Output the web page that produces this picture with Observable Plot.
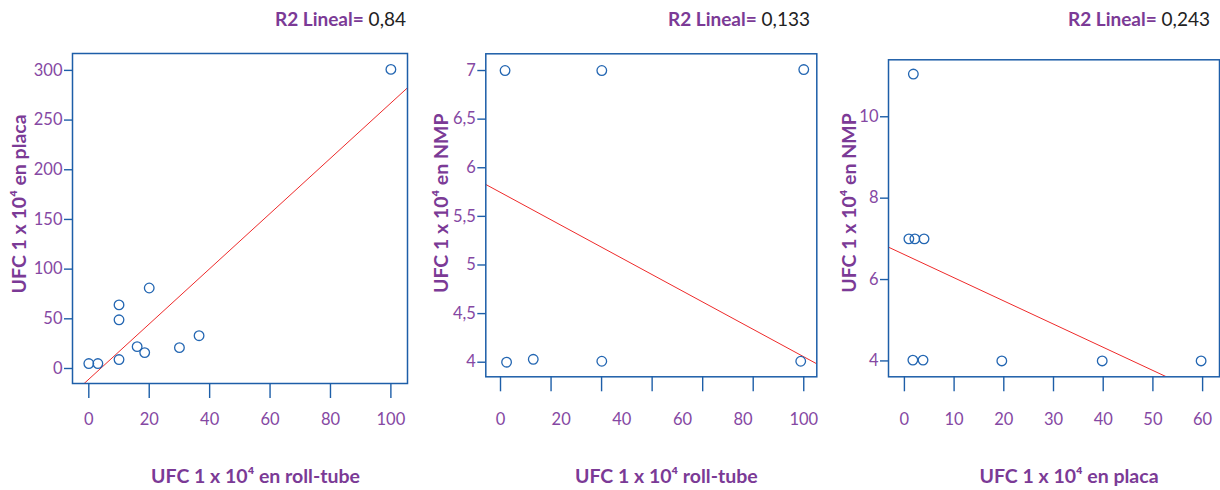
<!DOCTYPE html>
<html><head><meta charset="utf-8">
<script src="https://cdn.jsdelivr.net/npm/d3@7"></script>
<script src="https://cdn.jsdelivr.net/npm/@observablehq/plot@0.6"></script>
<style>
body{margin:0;background:#fff;}
#wrap{position:relative;width:1220px;height:490px;font-family:Lato,"Noto Sans",sans-serif;overflow:hidden;}
.r2{position:absolute;top:8px;line-height:22px;font-size:19px;white-space:nowrap;}
.r2 b{color:#7b3a96;font-weight:700;}
.r2 span{color:#222;}
.pan{position:absolute;top:40px;}
</style></head>
<body><div id="wrap"></div>
<script>
// ---- Panel 1: roll-tube vs placa ----
const p1X = [0, 3, 10, 10, 10, 16, 18.5, 20, 30, 36.5, 100];
const p1Y = [5, 5, 9, 49, 64, 22, 16, 81, 21, 33, 301];
const p1Fit = [-10.8, 2.78];           // intercept, slope of fitted line
const p1XTicks = [0, 20, 40, 60, 80, 100];
const p1YTicks = [0, 50, 100, 150, 200, 250, 300];
const p1R2 = "0,84";
const p1XTitle = "UFC 1 x 10⁴ en roll-tube";
const p1YTitle = "UFC 1 x 10⁴ en placa";

// ---- Panel 2: roll-tube vs NMP ----
const p2X = [1.5, 2, 10.8, 33.4, 33.4, 100, 99];
const p2Y = [7, 4, 4.03, 7, 4.01, 7.01, 4.01];
const p2Fit = [5.746, -0.0169];
const p2XTicks = [0, 20, 40, 60, 80, 100];
const p2XTickMarks = [0, 16.67, 33.33, 50, 66.67, 83.33, 100];
const p2YTicks = [4, 4.5, 5, 5.5, 6, 6.5, 7];
const p2R2 = "0,133";
const p2XTitle = "UFC 1 x 10⁴ roll-tube";
const p2YTitle = "UFC 1 x 10⁴ en NMP";

// ---- Panel 3: placa vs NMP ----
const p3X = [1.8, 0.9, 2.1, 3.95, 1.7, 3.75, 19.6, 39.8, 59.7];
const p3Y = [11.05, 7, 7, 7, 4.02, 4.02, 4, 4, 4];
const p3Fit = [6.613, -0.05695];
const p3XTicks = [0, 10, 20, 30, 40, 50, 60];
const p3YTicks = [4, 6, 8, 10];
const p3R2 = "0,243";
const p3XTitle = "UFC 1 x 10⁴ en placa";
const p3YTitle = "UFC 1 x 10⁴ en NMP";

const PURPLE = "#7b3a96", TICKTXT = "#8548a3", BLUE = "#1d5ea8", DOT = "#2366b2", RED = "#ee2a2a";
const FONT = 'Lato, "Noto Sans", sans-serif';
const fmt = d => String(d).replace(".", ",");

function panel(c) {
  const pts = c.xs.map((x, i) => ({x, y: c.ys[i]}));
  const [x0, x1] = c.xDomain;
  const fit = [x0 - 10, x1 + 10].map(x => ({x, y: c.fit[0] + c.fit[1] * x}));
  return Plot.plot({
    width: c.width, height: 450,
    marginLeft: c.ml, marginRight: c.mr, marginTop: c.mt, marginBottom: c.mb,
    x: {domain: c.xDomain}, y: {domain: c.yDomain},
    style: {fontFamily: FONT, fontSize: "16.5px", background: "transparent", overflow: "visible"},
    marks: [
      Plot.line(fit, {x: "x", y: "y", stroke: RED, strokeWidth: 1, clip: true}),
      Plot.dot(pts, {x: "x", y: "y", r: 4.8, stroke: DOT, strokeWidth: 1.3, fill: "none"}),
      Plot.frame({stroke: BLUE, strokeWidth: 1.5}),
      Plot.axisY({ticks: c.yTicks, tickSize: 8, tickPadding: 2, tickFormat: fmt, stroke: BLUE, strokeWidth: 1.4, fill: TICKTXT, label: null}),
      Plot.axisX({ticks: c.xTickMarks || c.xTicks, tickSize: 15, tickFormat: () => "", stroke: BLUE, strokeWidth: 1.4, label: null}),
      Plot.axisX({ticks: c.xTicks, tickSize: 0, tickPadding: c.xPad, tickFormat: fmt, fill: TICKTXT, label: null}),
      Plot.text([c.xTitle], {text: d => d, frameAnchor: "bottom", textAnchor: "middle", lineAnchor: "middle", dy: c.xtDy, dx: c.xtDx, fill: PURPLE, fontWeight: 700, fontSize: 19.5}),
      Plot.text([c.yTitle], {text: d => d, frameAnchor: "left", textAnchor: "middle", lineAnchor: "middle", rotate: -90, dx: c.ytDx, dy: c.ytDy, fill: PURPLE, fontWeight: 700, fontSize: 19.5})
    ]
  });
}

const cfgs = [
  {left: 0, width: 410, ml: 72, mr: 3, mt: 13, mb: 107, xDomain: [-5.4, 105.5], yDomain: [-15.1, 317],
   xs: p1X, ys: p1Y, fit: p1Fit, xTicks: p1XTicks, yTicks: p1YTicks, xPad: 30,
   xTitle: p1XTitle, yTitle: p1YTitle, xtDy: 93.1, xtDx: 15.5, ytDx: -52.5, ytDy: -14.6, r2: p1R2, r2Right: 406},
  {left: 410, width: 410, ml: 75.3, mr: 3.7, mt: 13.3, mb: 113.7, xDomain: [-4.85, 104.3], yDomain: [3.85, 7.172],
   xs: p2X, ys: p2Y, fit: p2Fit, xTicks: p2XTicks, xTickMarks: p2XTickMarks, yTicks: p2YTicks, xPad: 36.7,
   xTitle: p2XTitle, yTitle: p2YTitle, xtDy: 99.8, xtDx: 15, ytDx: -44.5, ytDy: -12, r2: p2R2, r2Right: 810},
  {left: 820, width: 400, ml: 68, mr: 1, mt: 19.3, mb: 113.7, xDomain: [-3.2, 63.4], yDomain: [3.61, 11.40],
   xs: p3X, ys: p3Y, fit: p3Fit, xTicks: p3XTicks, yTicks: p3YTicks, xPad: 36.7,
   xTitle: p3XTitle, yTitle: p3YTitle, xtDy: 99.8, xtDx: 15, ytDx: -39, ytDy: -15.3, r2: p3R2, r2Right: 1210}
];

const wrap = document.getElementById("wrap");
for (const c of cfgs) {
  const svg = panel(c);
  const holder = document.createElement("div");
  holder.className = "pan";
  holder.style.left = c.left + "px";
  holder.appendChild(svg);
  wrap.appendChild(holder);
  const t = document.createElement("div");
  t.className = "r2";
  t.style.right = (1220 - c.r2Right) + "px";
  t.innerHTML = "<b>R2 Lineal=</b><span> " + c.r2 + "</span>";
  wrap.appendChild(t);
}
</script>
</body></html>
